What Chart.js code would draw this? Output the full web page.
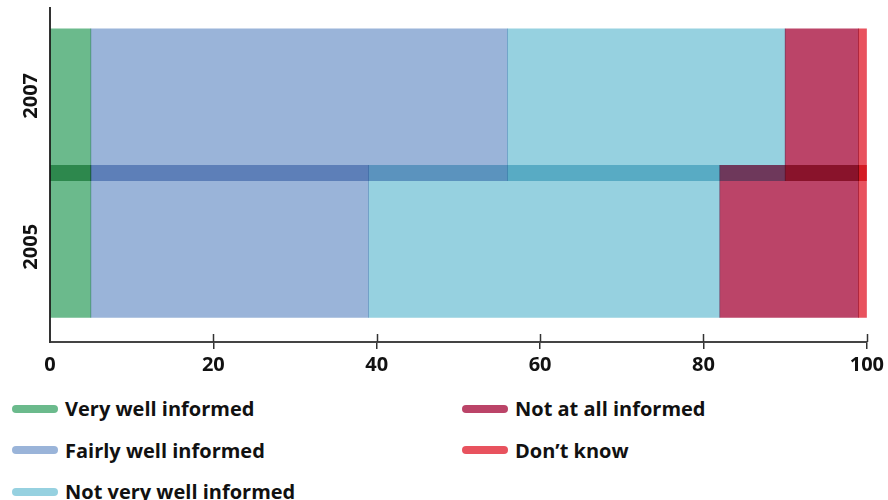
<!DOCTYPE html>
<html><head><meta charset="utf-8">
<script src="https://cdn.jsdelivr.net/npm/chart.js@4/dist/chart.umd.min.js"></script>
<style>
html,body{margin:0;padding:0;background:#fff;}
#wrap{position:relative;width:888px;height:500px;overflow:hidden;background:#fff;}
#c{position:absolute;left:0;top:0;}
#legend{position:absolute;left:12px;top:388px;width:876px;height:112px;font-family:'Open Sans', sans-serif;font-weight:700;font-size:20px;color:#111;}
.item{position:absolute;display:flex;align-items:center;height:41px;line-height:41px;white-space:nowrap;}
.sw{width:46px;height:8px;border-radius:4px;margin-right:7px;flex:none;}
</style></head><body>
<div id="wrap"><canvas id="c" width="888" height="381"></canvas><div id="legend"></div></div>
<script>
const categories = ['2007', '2005'];
const seriesNames = ['Very well informed', 'Fairly well informed', 'Not very well informed', 'Not at all informed', 'Don\u2019t know'];
const veryWell    = [5, 5];
const fairlyWell  = [51, 34];
const notVeryWell = [34, 43];
const notAtAll    = [9, 17];
const dontKnow    = [1, 1];
const xTicks = [0, 20, 40, 60, 80, 100];
const colors = ['#6bba8c', '#9ab4d9', '#96d1e0', '#bb4468', '#e8525e'];

const seriesValues = [veryWell, fairlyWell, notVeryWell, notAtAll, dontKnow];
const FONT = {family: "'Open Sans', sans-serif", size: 20, weight: 'bold'};

const bgPlugin = {
  id: 'bg',
  beforeDraw(chart) {
    const c = chart.ctx; c.save(); c.fillStyle = '#fff'; c.fillRect(0, 0, chart.width, chart.height); c.restore();
  }
};
const multiplyPlugin = {
  id: 'multiply',
  beforeDatasetsDraw(chart) { chart.ctx.save(); chart.ctx.globalCompositeOperation = 'multiply'; },
  afterDatasetsDraw(chart) { chart.ctx.restore(); }
};
const tickUpPlugin = {
  id: 'tickUp',
  afterDraw(chart) {
    const s = chart.scales.x, c = chart.ctx, yb = chart.chartArea.bottom;
    c.save(); c.strokeStyle = '#333'; c.lineWidth = 1.5;
    s.ticks.forEach(t => {
      if (t.value === 0) return;
      const px = Math.round(s.getPixelForValue(t.value)) + 0.5;
      c.beginPath(); c.moveTo(px, yb - 8); c.lineTo(px, yb); c.stroke();
    });
    c.restore();
  }
};

new Chart(document.getElementById('c'), {
  type: 'bar',
  data: {
    datasets: seriesNames.map((n, k) => ({
      label: n,
      data: seriesValues[k].map((v, i) => ({x: v, y: categories.length - 1 - i})),
      backgroundColor: colors[k],
      borderWidth: 0,
      barThickness: 152
    }))
  },
  options: {
    indexAxis: 'y',
    responsive: false,
    animation: false,
    devicePixelRatio: 1,
    layout: {padding: {top: 8, right: 21, bottom: 0, left: 0}},
    plugins: {legend: {display: false}, tooltip: {enabled: false}},
    scales: {
      x: {
        type: 'linear', min: 0, max: 100, stacked: true, bounds: 'data', offset: false,
        afterBuildTicks: s => { s.ticks = xTicks.map(v => ({value: v})); },
        grid: {display: true, drawOnChartArea: false, drawTicks: true, tickLength: 7, offset: false,
               color: c => (c.tick && c.tick.value === 0) ? 'rgba(0,0,0,0)' : '#333', lineWidth: 1.5},
        border: {display: true, color: '#444', width: 2},
        ticks: {color: '#111', font: FONT, padding: 4, maxRotation: 0}
      },
      y: {
        type: 'linear', min: -0.737, max: 1.708, stacked: true, bounds: 'data', offset: false,
        afterBuildTicks: s => { s.ticks = [{value: 1.065}, {value: -0.04}]; },
        afterFit: s => { s.width = 50; },
        grid: {display: false, drawTicks: false, offset: false},
        border: {display: true, color: '#333', width: 2},
        ticks: {callback: (v, i) => categories[i], minRotation: 90, maxRotation: 90,
                crossAlign: 'center', padding: -4, color: '#111', font: FONT}
      }
    }
  },
  plugins: [bgPlugin, multiplyPlugin, tickUpPlugin]
});

const leg = document.getElementById('legend');
seriesNames.forEach((n, k) => {
  const col = Math.floor(k / 3), row = k % 3;
  const it = document.createElement('div');
  it.className = 'item';
  it.style.left = (col * 450) + 'px';
  it.style.top = (row * 41.5) + 'px';
  const sw = document.createElement('span'); sw.className = 'sw'; sw.style.background = colors[k];
  const tx = document.createElement('span'); tx.textContent = n;
  it.appendChild(sw); it.appendChild(tx); leg.appendChild(it);
});
</script>
</body></html>
